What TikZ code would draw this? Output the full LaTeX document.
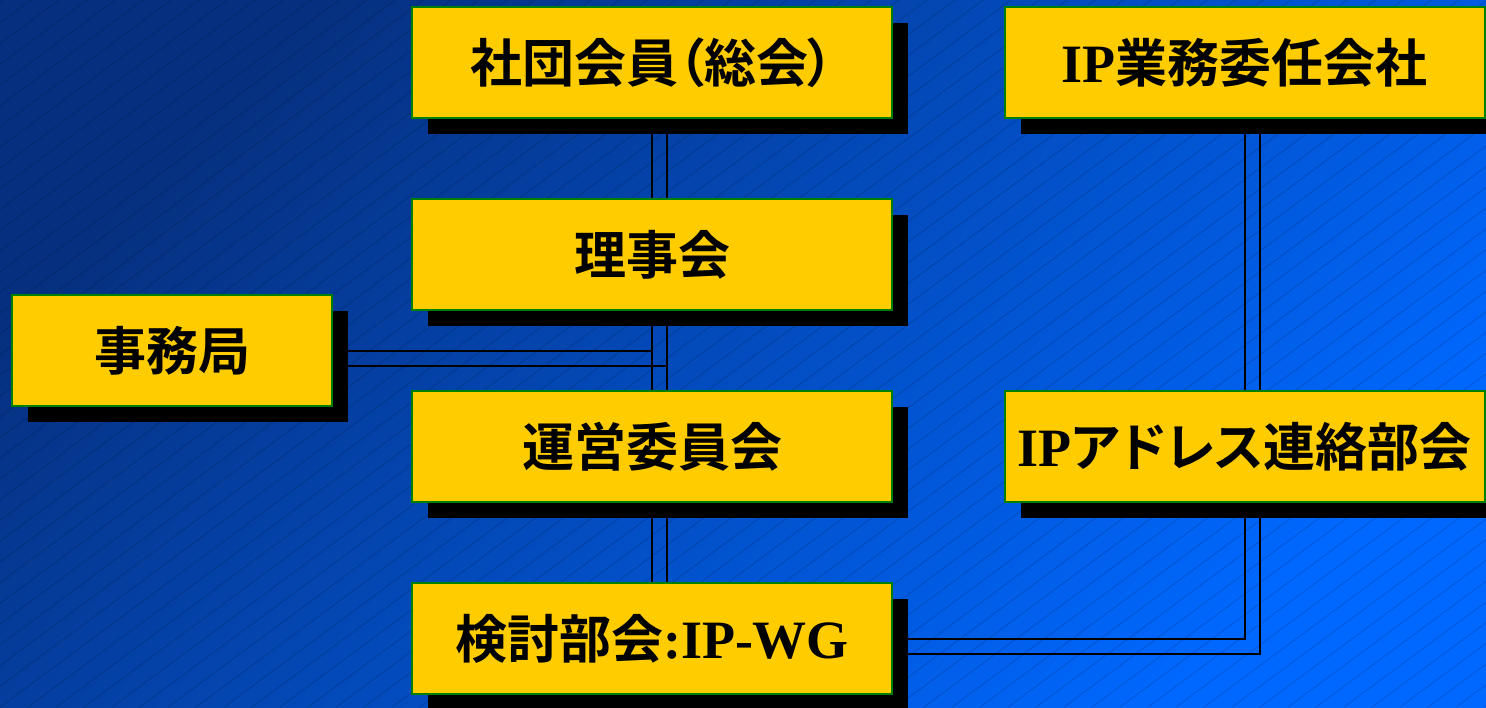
\documentclass[tikz,border=0pt]{standalone}
\usepackage{fontspec}
\setmainfont{Liberation Serif}
\newfontfamily\jp{Noto Sans CJK JP Bold}
\newfontfamily\jpkana{Noto Sans CJK JP Bold}[RawFeature=+palt]
\usetikzlibrary{calc}
\usetikzlibrary{shadows}
\usetikzlibrary{backgrounds}
\pgfdeclarelayer{links}
\pgfsetlayers{background,links,main}
\definecolor{boxfill}{HTML}{FFCC00}
\definecolor{boxline}{HTML}{008000}
\definecolor{bgdark}{HTML}{06307F}
\definecolor{bglight}{HTML}{0068FF}
\newcommand\ipbf[1]{{\rmfamily\bfseries\fontsize{27}{28}\selectfont #1}}

\begin{document}
\begin{tikzpicture}[x=0.5pt, y=-0.5pt, line join=miter]
\tikzstyle{orgbox}=[draw=boxline, line width=1pt, fill=boxfill, minimum width=240pt, minimum height=55.5pt, inner sep=0pt, general shadow={fill=black, shadow xshift=8pt, shadow yshift=-8pt}, font=\jp\fontsize{26}{28}\selectfont]
\tikzstyle{smallbox}=[orgbox, minimum width=160pt]
\tikzstyle{link}=[line width=1pt, black]
\tikzstyle{hatch}=[line width=0.4pt, black, opacity=0.16]
\useasboundingbox (0,0) rectangle (1486,707);

\node[orgbox] (soukai) at (652,62.5) {社団会員{\jpkana （}総会{\jpkana ）}};
\node[orgbox] (riji) at (652,254.5) {理事会};
\node[orgbox] (unei) at (652,446.5) {運営委員会};
\node[orgbox] (wg) at (652,638.5) {検討部会\ipbf{:IP-WG}};
\node[smallbox] (jimu) at (172,350.5) {事務局};
\node[orgbox] (itaku) at (1244.5,62.5) {\ipbf{IP}業務委任会社};
\node[orgbox] (renraku) at (1244.5,446.5) {\ipbf{IP}{\jpkana アドレス}連絡部会};

\begin{pgfonlayer}{links}
\draw[link] (soukai.center) -- (wg.center);
\draw[link] ($(soukai.center)+(15,0)$) -- ($(wg.center)+(15,0)$);
\draw[link] (jimu.center) -- (jimu.center -| soukai.center);
\draw[link] ($(jimu.center)+(0,15)$) -- ($(jimu.center -| soukai.center)+(15,15)$);
\draw[link] (itaku.center) -- (renraku.center);
\draw[link] ($(itaku.center)+(15,0)$) -- ($(renraku.center)+(15,0)$);
\draw[link] (renraku.center) |- (wg.center);
\draw[link] ($(renraku.center)+(15,0)$) |- ($(wg.center)+(0,15)$);
\end{pgfonlayer}

\begin{pgfonlayer}{background}
\shade[top color=bgdark, bottom color=bglight, shading angle=45] (0,0) rectangle (1486,707);
\begin{scope}
\clip (0,0) rectangle (1486,707);
\foreach \i in {-35,...,54}
  \draw[hatch] (\i*28,707) -- ++(955,-707);
\end{scope}
\end{pgfonlayer}
\end{tikzpicture}
\end{document}
